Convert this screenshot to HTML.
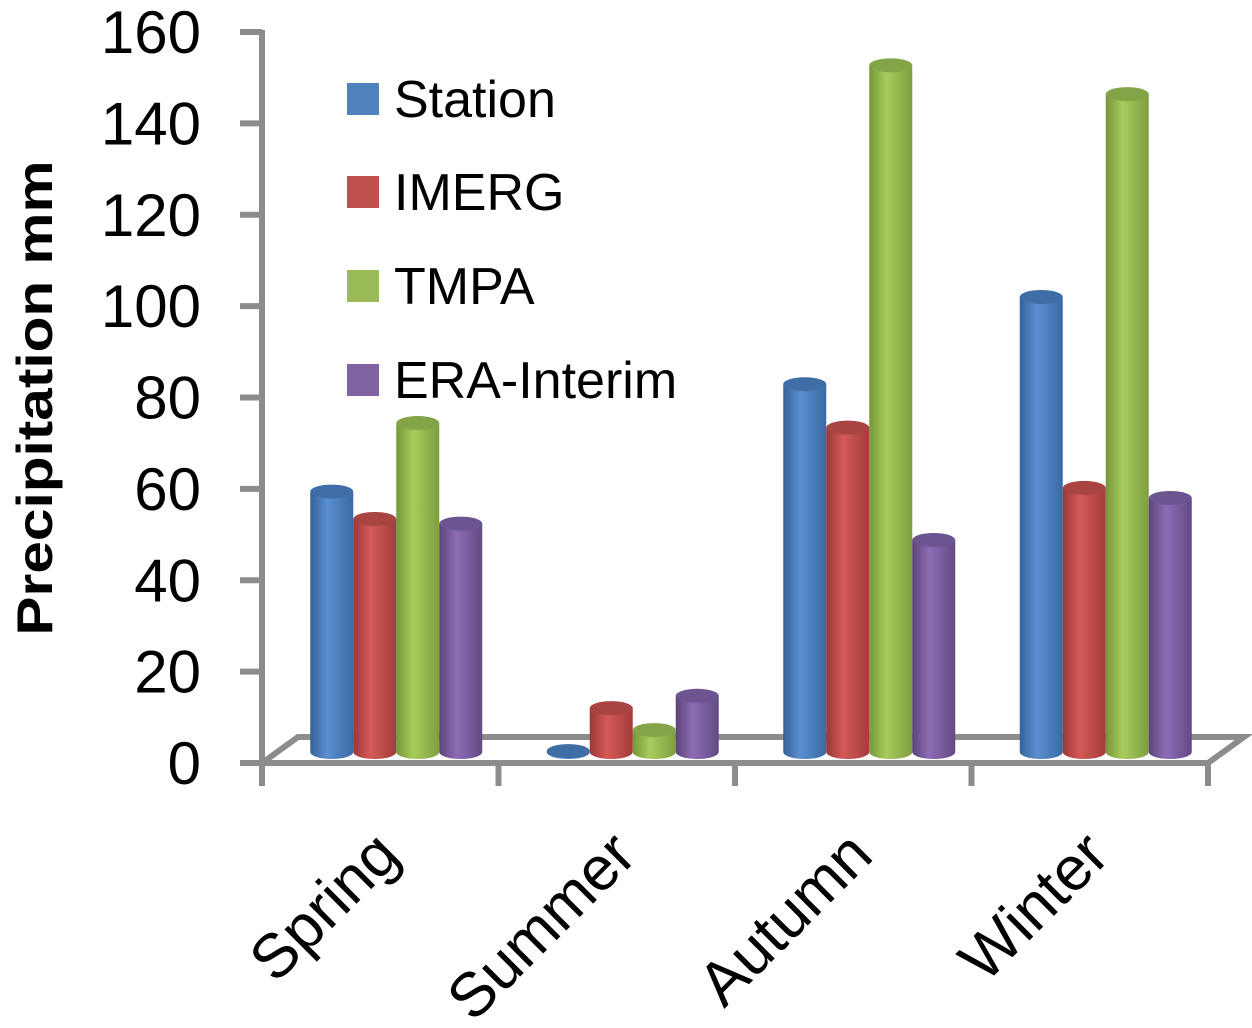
<!DOCTYPE html>
<html><head><meta charset="utf-8"><style>
html,body{margin:0;padding:0;background:#fff;}
svg text{font-family:"Liberation Sans",sans-serif;}
</style></head><body>
<svg id="chart" width="1252" height="1023" viewBox="0 0 1252 1023" xmlns="http://www.w3.org/2000/svg">
<defs>
<linearGradient id="g0" x1="0" x2="1"><stop offset="0" stop-color="#34629a"/><stop offset="0.4" stop-color="#5b8fd0"/><stop offset="1" stop-color="#3a6aa5"/></linearGradient>
<linearGradient id="g1" x1="0" x2="1"><stop offset="0" stop-color="#9a3836"/><stop offset="0.4" stop-color="#d45a57"/><stop offset="1" stop-color="#a33c3a"/></linearGradient>
<linearGradient id="g2" x1="0" x2="1"><stop offset="0" stop-color="#76973a"/><stop offset="0.4" stop-color="#a8cc5c"/><stop offset="1" stop-color="#7e9e40"/></linearGradient>
<linearGradient id="g3" x1="0" x2="1"><stop offset="0" stop-color="#5b4479"/><stop offset="0.4" stop-color="#8d6cb6"/><stop offset="1" stop-color="#624b83"/></linearGradient>
</defs>
<g id="axes"></g>
<g id="bars"></g>
<g id="labels"></g>
</svg>
<script>
const categories = ["Spring","Summer","Autumn","Winter"];
const seriesNames = ["Station","IMERG","TMPA","ERA-Interim"];
const station = [57, 0.2, 80.5, 99.6];
const imerg = [51, 9.6, 71, 57.8];
const tmpa = [72, 4.8, 150.3, 144];
const era = [50, 12.3, 46.4, 55.6];
const yTicks = [0,20,40,60,80,100,120,140,160];
const series = [station, imerg, tmpa, era];
const topCols = ["#4f81bd","#c0504d","#9bbb59","#8064a2"];
const capCols = ["#3f6ea6","#a84442","#84a448","#6c5490"];

const NS = "http://www.w3.org/2000/svg";
function mk(tag, attrs, parent){const e=document.createElementNS(NS,tag);for(const k in attrs)e.setAttribute(k,attrs[k]);parent.appendChild(e);return e;}
const axisY0 = 763, pxPerUnit = (763-32)/160;
function yAxis(v){return axisY0 - v*pxPerUnit;}
function yBar(v){return 752 - v*pxPerUnit;}
const x0 = 262, catW = (1208-262)/categories.length;
function catX(i){return x0 + catW*i;}
function barX(ci, si){return catX(ci) + catW/2 + 16 + (si-1.5)*43;}

const axes = document.getElementById('axes');
const gray = "#8c8c8c";
let p = mk('polyline',{points:`262,763 298,737 1244,737 1208,763`,fill:"none",stroke:gray,"stroke-width":6},axes);


let l = mk('line',{x1:262,y1:763,x2:1211,y2:763,stroke:gray,"stroke-width":6},axes);


l = mk('line',{x1:262,y1:30,x2:262,y2:766,stroke:gray,"stroke-width":6},axes);


yTicks.forEach(v=>{
  const y=yAxis(v);
  const t=mk('line',{x1:240,y1:y,x2:262,y2:y,stroke:gray,"stroke-width":6},axes);
  
  
  const tx=mk('text',{x:201,y:y+21,"text-anchor":"end","font-size":60,fill:"#000"},axes);
  tx.textContent=v;
  
  
});
for(let i=0;i<=categories.length;i++){
  const t=mk('line',{x1:catX(i),y1:763,x2:catX(i),y2:786,stroke:gray,"stroke-width":6},axes);
  
  
}
const bars=document.getElementById('bars');
categories.forEach((c,ci)=>{
  series.forEach((s,si)=>{
    const cx=barX(ci,si), rx=21.5, ry=7, yb=752, yt=yBar(s[ci]);
    const g=mk('g',{},bars);
    
    
    mk('path',{d:`M${cx-rx},${yt} L${cx-rx},${yb} A${rx},${ry} 0 0 0 ${cx+rx},${yb} L${cx+rx},${yt} Z`,fill:`url(#g${si})`},g);
    mk('ellipse',{cx:cx,cy:yt,rx:rx,ry:ry,fill:capCols[si]},g);
  });
});
const lab=document.getElementById('labels');
let tt=mk('text',{x:0,y:0,"font-size":50,"font-weight":"bold",transform:"translate(52,398) rotate(-90)","text-anchor":"middle",textLength:475,lengthAdjust:"spacingAndGlyphs"},lab);
tt.textContent="Precipitation mm";


categories.forEach((c,ci)=>{
  const ex=catX(ci)+catW/2+22, ey=858;
  const t=mk('text',{x:0,y:0,"font-size":62,"text-anchor":"end",transform:`translate(${ex},${ey}) rotate(-45)`},lab);
  t.textContent=c;
  
  
});
const legendY=[99,192,286,380];
seriesNames.forEach((n,i)=>{
  const g=mk('g',{},lab);
  
  
  mk('rect',{x:347,y:legendY[i]-16,width:32,height:32,fill:topCols[i]},g);
  const t=mk('text',{x:394,y:legendY[i]+18,"font-size":52},g);
  t.textContent=n;
});
</script>
</body></html>
